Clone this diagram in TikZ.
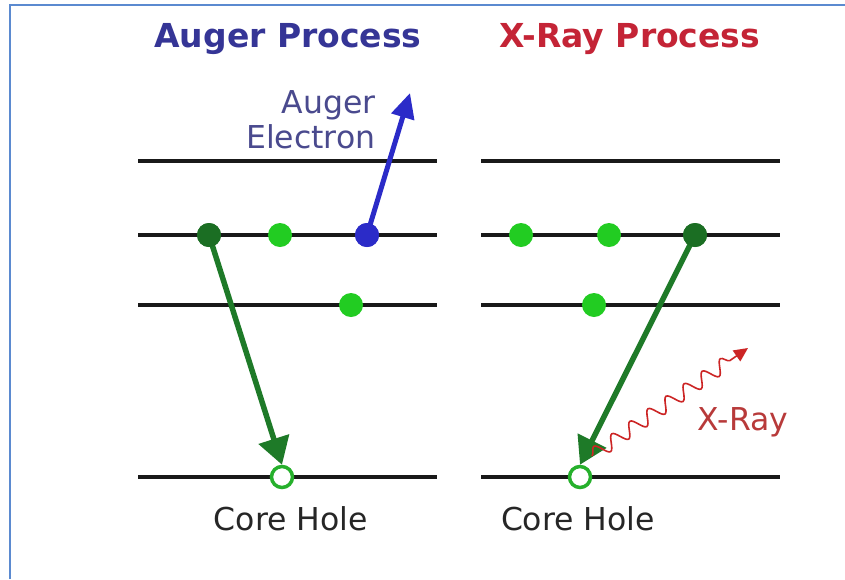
\documentclass[tikz,border=0pt]{standalone}
\usepackage{fontspec}
\setmainfont{DejaVu Sans}
\usetikzlibrary{arrows.meta,decorations.pathmorphing}
\definecolor{titleblue}{HTML}{353596}
\definecolor{titlered}{HTML}{C42436}
\definecolor{eblue}{HTML}{2B2BC8}
\definecolor{dkgreen}{HTML}{1B6E23}
\definecolor{ltgreen}{HTML}{22CC22}
\definecolor{arrgreen}{HTML}{1E7A28}
\definecolor{holegreen}{HTML}{26B02C}
\definecolor{xred}{HTML}{CC2525}
\definecolor{framecol}{HTML}{5B8AD0}
\definecolor{labelblue}{HTML}{4A4A8E}
\definecolor{labelred}{HTML}{B83A3A}
\tikzset{
  level/.style={line width=4.5pt, black!90},
  dotlt/.style={circle, fill=ltgreen, inner sep=0pt, minimum size=24pt},
  dotdk/.style={circle, fill=dkgreen, inner sep=0pt, minimum size=24pt},
  dotbl/.style={circle, fill=eblue, inner sep=0pt, minimum size=24pt},
  hole/.style={circle, draw=holegreen, line width=3.5pt, fill=white, inner sep=0pt, minimum size=21pt},
  greenarrow/.style={line width=5.5pt, arrgreen, -{Triangle[length=27pt,width=31pt]}},
  bluearrow/.style={line width=5pt, eblue, -{Triangle[length=25pt,width=23pt]}},
  xray/.style={xred, line width=1.6pt, decorate, decoration={snake, segment length=22pt, amplitude=7pt, post length=14pt}, -{Triangle[length=14pt,width=13pt]}},
  title/.style={font=\fontsize{33}{40}\selectfont\bfseries, anchor=base},
  lbl/.style={font=\fontsize{31.5}{37}\selectfont, anchor=base}
}
\begin{document}
\begin{tikzpicture}[x=1pt,y=-1pt]
\useasboundingbox (0,0) rectangle (845,579);
\fill[white] (0,0) rectangle (845,579);
% frame
\draw[framecol, line width=2.5pt] (10,579) -- (10,5) -- (845,5);
% titles
\node[title, text=titleblue] (tA) at (288,47) {Auger Process};
\node[title, text=titlered] (tX) at (630,47) {X-Ray Process};
% levels
\foreach \yy [count=\i] in {161,235,305,477}{
  \draw[level] (138,\yy) -- (437,\yy);
  \draw[level] (481,\yy) -- (780,\yy);
}
% Auger side
\node[dotdk] (aD) at (209,235) {};
\node[dotlt] (aG1) at (280,235) {};
\node[dotbl] (aB) at (367,235) {};
\node[dotlt] (aG2) at (351,305) {};
\node[hole] (aH) at (282,477) {};
\coordinate (aTip) at (410,93);
\draw[greenarrow] (aD.center) -- (aH.north);
\draw[bluearrow] (aB.center) -- (aTip);
\node[dotdk] at (aD) {};
\node[dotbl] at (aB) {};
\node[lbl, text=labelblue, anchor=base east] (aL1) at (379,113) {Auger};
\node[lbl, text=labelblue, anchor=base east] (aL2) at (379,148) {Electron};
\node[lbl, text=black!85] (aC) at (291,530) {Core Hole};
% X-ray side
\node[dotlt] (xG1) at (521,235) {};
\node[dotlt] (xG2) at (609,235) {};
\node[dotdk] (xD) at (695,235) {};
\node[dotlt] (xG3) at (594,305) {};
\node[hole] (xH) at (580,477) {};
\draw[greenarrow] (xD.center) -- (xH.north);
\node[dotdk] at (xD) {};
\coordinate (xs) at (592,456);
\coordinate (xe) at (748,348);
\draw[xray] (xs) -- (xe);
\node[lbl, text=labelred] (xL) at (743,430) {X-Ray};
\node[lbl, text=black!85] (xC) at (578,530) {Core Hole};
\end{tikzpicture}
\end{document}
